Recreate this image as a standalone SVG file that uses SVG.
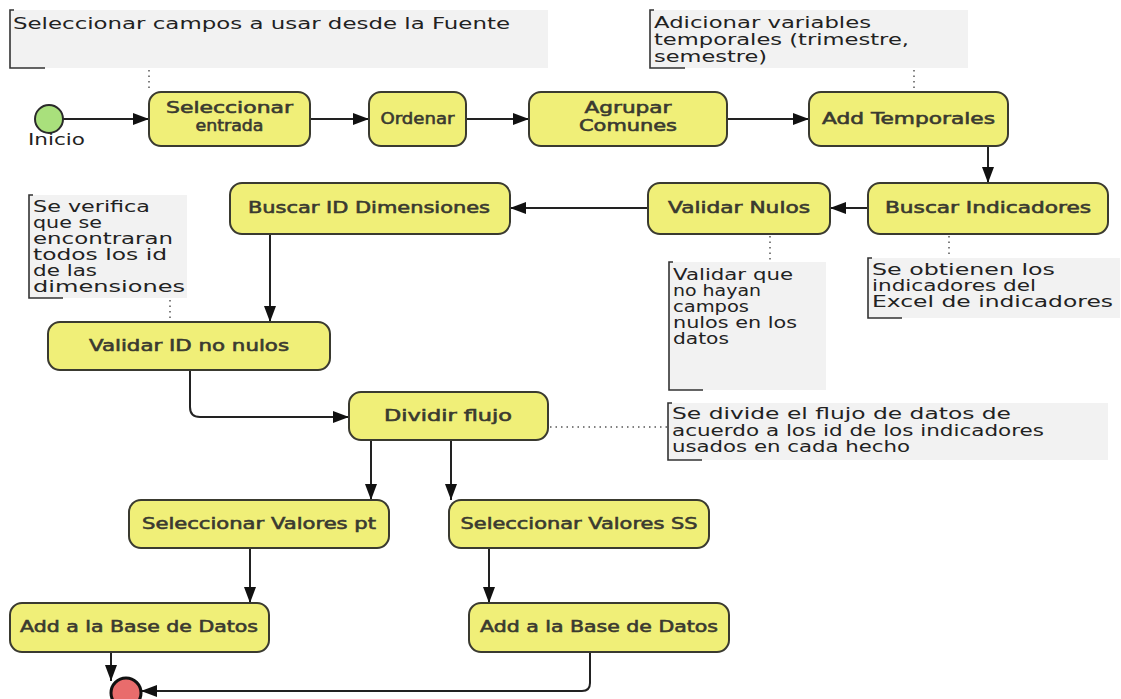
<svg xmlns="http://www.w3.org/2000/svg" width="1121" height="699" viewBox="0 0 1121 699">
  <style>
    .node { fill: #f0ef78; stroke: #3a3a30; stroke-width: 2; }
    .lbl { font-family: "DejaVu Sans", "Liberation Sans", sans-serif; font-size: 15px; fill: #3a3a30; stroke: #3a3a30; stroke-width: 0.55; text-anchor: middle; }
    .note-bg { fill: #f2f2f2; }
    .bracket { fill: none; stroke: #333; stroke-width: 1.6; }
    .note { font-family: "DejaVu Sans", "Liberation Sans", sans-serif; font-size: 15px; fill: #222; }
    .flow { fill: none; stroke: #222; stroke-width: 2; }
    .dots { fill: none; stroke: #555; stroke-width: 1.5; stroke-dasharray: 1.5 4; }
  </style>
  <defs>
    <marker id="arrowW" viewBox="0 0 16 12" refX="16" refY="6" markerWidth="16" markerHeight="12" markerUnits="userSpaceOnUse" orient="auto">
      <path d="M0,0 L16,6 L0,12 z" fill="#111"/>
    </marker>
  </defs>
  <rect width="1121" height="699" fill="#ffffff"/>

  <!-- annotations -->
  <g id="note-fuente">
    <rect class="note-bg" x="10" y="10" width="538" height="58"/>
    <path class="bracket" d="M14,10 H10 V68 H45"/>
    <text class="note" x="13" y="29" font-size="16" textLength="497" lengthAdjust="spacingAndGlyphs">Seleccionar campos a usar desde la Fuente</text>
  </g>
  <g id="note-temporales">
    <rect class="note-bg" x="650" y="10" width="318" height="58"/>
    <path class="bracket" d="M654,10 H650 V68 H685"/>
    <text class="note" x="654" y="28" textLength="217" lengthAdjust="spacingAndGlyphs">Adicionar variables</text>
    <text class="note" x="654" y="45" textLength="255" lengthAdjust="spacingAndGlyphs">temporales (trimestre,</text>
    <text class="note" x="654" y="62" textLength="113" lengthAdjust="spacingAndGlyphs">semestre)</text>
  </g>
  <g id="note-dimensiones">
    <rect class="note-bg" x="29" y="195" width="158" height="103"/>
    <path class="bracket" d="M33,195 H29 V298 H63"/>
    <text class="note" x="33" y="212" textLength="117" lengthAdjust="spacingAndGlyphs">Se verifica</text>
    <text class="note" x="33" y="228" textLength="69" lengthAdjust="spacingAndGlyphs">que se</text>
    <text class="note" x="33" y="244" textLength="140" lengthAdjust="spacingAndGlyphs">encontraran</text>
    <text class="note" x="33" y="260" textLength="134" lengthAdjust="spacingAndGlyphs">todos los id</text>
    <text class="note" x="33" y="276" textLength="64" lengthAdjust="spacingAndGlyphs">de las</text>
    <text class="note" x="33" y="292" textLength="152" lengthAdjust="spacingAndGlyphs">dimensiones</text>
  </g>
  <g id="note-nulos">
    <rect class="note-bg" x="669" y="262" width="157" height="128"/>
    <path class="bracket" d="M673,262 H669 V390 H703"/>
    <text class="note" x="673" y="280" textLength="120" lengthAdjust="spacingAndGlyphs">Validar que</text>
    <text class="note" x="673" y="296" textLength="88" lengthAdjust="spacingAndGlyphs">no hayan</text>
    <text class="note" x="673" y="312" textLength="76" lengthAdjust="spacingAndGlyphs">campos</text>
    <text class="note" x="673" y="328" textLength="124" lengthAdjust="spacingAndGlyphs">nulos en los</text>
    <text class="note" x="673" y="344" textLength="56" lengthAdjust="spacingAndGlyphs">datos</text>
  </g>
  <g id="note-indicadores">
    <rect class="note-bg" x="868" y="258" width="252" height="60"/>
    <path class="bracket" d="M872,258 H868 V318 H902"/>
    <text class="note" x="872" y="275" textLength="183" lengthAdjust="spacingAndGlyphs">Se  obtienen los</text>
    <text class="note" x="872" y="291" textLength="164" lengthAdjust="spacingAndGlyphs">indicadores del</text>
    <text class="note" x="872" y="307" textLength="241" lengthAdjust="spacingAndGlyphs">Excel de indicadores</text>
  </g>
  <g id="note-dividir">
    <rect class="note-bg" x="668" y="403" width="440" height="57"/>
    <path class="bracket" d="M672,403 H668 V460 H702"/>
    <text class="note" x="672" y="419" textLength="339" lengthAdjust="spacingAndGlyphs">Se divide el flujo de datos de</text>
    <text class="note" x="672" y="436" textLength="372" lengthAdjust="spacingAndGlyphs">acuerdo a los id de los indicadores</text>
    <text class="note" x="672" y="452" textLength="238" lengthAdjust="spacingAndGlyphs">usados en cada hecho</text>
  </g>

  <!-- connectors -->
  <g id="connectors">
    <path class="dots" d="M149,70 V92"/>
    <path class="dots" d="M914,70 V92"/>
    <path class="dots" d="M170,300 V322"/>
    <path class="dots" d="M770,236 V262"/>
    <path class="dots" d="M949,236 V258"/>
    <path class="dots" d="M550,427 H668"/>

    <path class="flow" d="M63,119 H149" marker-end="url(#arrowW)"/>
    <path class="flow" d="M310,119 H369" marker-end="url(#arrowW)"/>
    <path class="flow" d="M466,119 H529" marker-end="url(#arrowW)"/>
    <path class="flow" d="M727,119 H809" marker-end="url(#arrowW)"/>
    <path class="flow" d="M988,146 V183" marker-end="url(#arrowW)"/>
    <path class="flow" d="M868,208 H830" marker-end="url(#arrowW)"/>
    <path class="flow" d="M648,208 H510" marker-end="url(#arrowW)"/>
    <path class="flow" d="M270,234 V322" marker-end="url(#arrowW)"/>
    <path class="flow" d="M190,370 V407 Q190,417 200,417 H349" marker-end="url(#arrowW)"/>
    <path class="flow" d="M371,440 V500" marker-end="url(#arrowW)"/>
    <path class="flow" d="M451,440 V500" marker-end="url(#arrowW)"/>
    <path class="flow" d="M250,548 V603" marker-end="url(#arrowW)"/>
    <path class="flow" d="M489,548 V603" marker-end="url(#arrowW)"/>
    <path class="flow" d="M111,652 V681" marker-end="url(#arrowW)"/>
    <path class="flow" d="M590,652 V683 Q590,691 582,691 H141" marker-end="url(#arrowW)"/>
  </g>

  <!-- nodes -->
  <g id="inicio">
    <circle cx="49" cy="119" r="14" fill="#a9e07c" stroke="#2a2a2a" stroke-width="2"/>
    <text class="note" x="28" y="145" textLength="57" lengthAdjust="spacingAndGlyphs">Inicio</text>
  </g>
  <g id="seleccionar-entrada">
    <rect class="node" x="149" y="92" width="161" height="54" rx="12"/>
    <text class="lbl" x="229.5" y="113" textLength="127" lengthAdjust="spacingAndGlyphs">Seleccionar</text>
    <text class="lbl" x="229.5" y="131" textLength="68" lengthAdjust="spacingAndGlyphs">entrada</text>
  </g>
  <g id="ordenar">
    <rect class="node" x="369" y="92" width="97" height="54" rx="12"/>
    <text class="lbl" x="417.5" y="124" textLength="74" lengthAdjust="spacingAndGlyphs">Ordenar</text>
  </g>
  <g id="agrupar-comunes">
    <rect class="node" x="529" y="92" width="198" height="54" rx="12"/>
    <text class="lbl" x="628" y="113" textLength="87" lengthAdjust="spacingAndGlyphs">Agrupar</text>
    <text class="lbl" x="628" y="131" textLength="98" lengthAdjust="spacingAndGlyphs">Comunes</text>
  </g>
  <g id="add-temporales">
    <rect class="node" x="809" y="92" width="199" height="54" rx="12"/>
    <text class="lbl" x="908.5" y="124" textLength="173" lengthAdjust="spacingAndGlyphs">Add Temporales</text>
  </g>
  <g id="buscar-indicadores">
    <rect class="node" x="868" y="183" width="240" height="51" rx="12"/>
    <text class="lbl" x="988" y="213" textLength="206" lengthAdjust="spacingAndGlyphs">Buscar Indicadores</text>
  </g>
  <g id="validar-nulos">
    <rect class="node" x="648" y="183" width="182" height="51" rx="12"/>
    <text class="lbl" x="739" y="213" textLength="142" lengthAdjust="spacingAndGlyphs">Validar Nulos</text>
  </g>
  <g id="buscar-id-dimensiones">
    <rect class="node" x="230" y="183" width="280" height="51" rx="12"/>
    <text class="lbl" x="369" y="213" textLength="242" lengthAdjust="spacingAndGlyphs">Buscar ID Dimensiones</text>
  </g>
  <g id="validar-id-no-nulos">
    <rect class="node" x="48" y="322" width="282" height="48" rx="12"/>
    <text class="lbl" x="189" y="351" textLength="200" lengthAdjust="spacingAndGlyphs">Validar ID no nulos</text>
  </g>
  <g id="dividir-flujo">
    <rect class="node" x="349" y="392" width="199" height="48" rx="12"/>
    <text class="lbl" x="448" y="421" textLength="128" lengthAdjust="spacingAndGlyphs">Dividir  flujo</text>
  </g>
  <g id="seleccionar-valores-pt">
    <rect class="node" x="129" y="500" width="260" height="48" rx="12"/>
    <text class="lbl" x="259" y="529" textLength="234" lengthAdjust="spacingAndGlyphs">Seleccionar Valores pt</text>
  </g>
  <g id="seleccionar-valores-ss">
    <rect class="node" x="449" y="500" width="260" height="48" rx="12"/>
    <text class="lbl" x="579" y="529" textLength="237" lengthAdjust="spacingAndGlyphs">Seleccionar Valores SS</text>
  </g>
  <g id="add-bd-pt">
    <rect class="node" x="10" y="603" width="259" height="49" rx="12"/>
    <text class="lbl" x="139" y="632" textLength="238" lengthAdjust="spacingAndGlyphs">Add a la Base de Datos</text>
  </g>
  <g id="add-bd-ss">
    <rect class="node" x="469" y="603" width="260" height="49" rx="12"/>
    <text class="lbl" x="599" y="632" textLength="238" lengthAdjust="spacingAndGlyphs">Add a la Base de Datos</text>
  </g>
  <g id="fin">
    <circle cx="126" cy="693" r="15" fill="#e96c6c" stroke="#111" stroke-width="3"/>
  </g>
</svg>
